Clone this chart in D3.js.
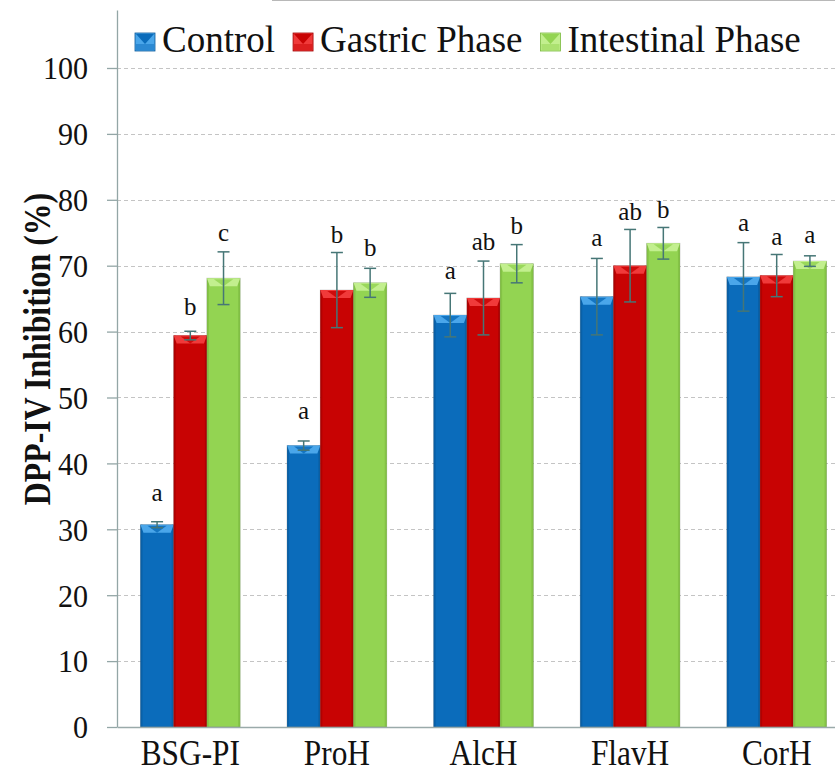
<!DOCTYPE html>
<html>
<head>
<meta charset="utf-8">
<script src="https://cdn.jsdelivr.net/npm/d3@7"></script>
<style>
  html, body { margin: 0; padding: 0; background: #fff; }
  svg { display: block; }
</style>
</head>
<body>
<svg id="chart" width="835" height="779"></svg>
<script>
// DPP-IV inhibition (%) per sample and digestion phase
const categories = ["BSG-PI", "ProH", "AlcH", "FlavH", "CorH"];
const seriesNames = ["Control", "Gastric Phase", "Intestinal Phase"];

const controlValues    = [30.7, 42.7, 62.5, 65.3, 68.3];
const gastricValues    = [59.4, 66.3, 65.1, 70.0, 68.5];
const intestinalValues = [68.1, 67.4, 70.3, 73.4, 70.7];

// standard deviations
const controlErr    = [0.45, 0.7, 3.3, 5.8, 5.2];
const gastricErr    = [0.65, 5.7, 5.6, 5.5, 3.2];
const intestinalErr = [4.0, 2.2, 2.9, 2.4, 0.8];

// significance letters and the level (in %) where each one sits
const controlLetters    = ["a", "a", "a", "a", "a"];
const gastricLetters    = ["b", "b", "ab", "ab", "a"];
const intestinalLetters = ["c", "b", "b", "b", "a"];
const controlLetterAt    = [34.3, 46.7, 68.0, 73.0, 75.3];
const gastricLetterAt    = [62.5, 73.4, 72.4, 77.0, 73.1];
const intestinalLetterAt = [73.8, 71.4, 74.8, 77.2, 73.4];

const yTicks = [0, 10, 20, 30, 40, 50, 60, 70, 80, 90, 100];
const yMax = 108.8;

const SERIF = "'Liberation Serif', 'Times New Roman', serif";

const palette = {
  "Control":          { base: "#0b6cbb", light: "#4aa6ea", dark: "#08589a" },
  "Gastric Phase":    { base: "#c80303", light: "#f03a3a", dark: "#a00000" },
  "Intestinal Phase": { base: "#93d452", light: "#c2ef8e", dark: "#79b83e" }
};

const seriesData = [
  { name: seriesNames[0], values: controlValues,    err: controlErr,    letters: controlLetters,    at: controlLetterAt },
  { name: seriesNames[1], values: gastricValues,    err: gastricErr,    letters: gastricLetters,    at: gastricLetterAt },
  { name: seriesNames[2], values: intestinalValues, err: intestinalErr, letters: intestinalLetters, at: intestinalLetterAt }
];

const rows = [];
seriesData.forEach(s => {
  categories.forEach((c, i) => {
    rows.push({ cat: c, series: s.name, value: s.values[i], err: s.err[i], letter: s.letters[i], at: s.at[i] });
  });
});

const svg = d3.select("#chart");
const W = 835;
const plotLeft = 117, plotBottom = 727, plotTop = 10, bandEnd = 850;

const y = d3.scaleLinear().domain([0, yMax]).range([plotBottom, plotTop]);
const x0 = d3.scaleBand().domain(categories).range([plotLeft, bandEnd]).paddingInner(0.32).paddingOuter(0.16);
const x1 = d3.scaleBand().domain(seriesNames).range([0, x0.bandwidth()]).padding(0);

// thin frame line along the top
svg.append("line").attr("x1", 272).attr("x2", W).attr("y1", 0.5).attr("y2", 0.5)
  .attr("stroke", "#b8b8b8").attr("stroke-width", 1);

// dashed gridlines
svg.append("g").selectAll("line").data(yTicks.filter(t => t > 0)).join("line")
  .attr("x1", plotLeft).attr("x2", W)
  .attr("y1", d => Math.round(y(d)) + 0.5).attr("y2", d => Math.round(y(d)) + 0.5)
  .attr("stroke", "#c4c4c4").attr("stroke-width", 1).attr("stroke-dasharray", "4,3");

// bars with a bevelled top
const barG = svg.append("g");
const bars = barG.selectAll("g.bar").data(rows).join("g").attr("class", "bar");
bars.each(function(d) {
  const g = d3.select(this);
  const c = palette[d.series];
  const bx = x0(d.cat) + x1(d.series);
  const bw = x1.bandwidth();
  const by = y(d.value);
  const bh = y(0) - by;
  g.append("rect").attr("x", bx).attr("y", by).attr("width", bw).attr("height", bh)
    .attr("fill", c.base).attr("stroke", "rgba(90,90,90,0.35)").attr("stroke-width", 0.8);
  // side shading
  g.append("rect").attr("x", bx).attr("y", by).attr("width", 2).attr("height", bh).attr("fill", c.dark).attr("opacity", 0.6);
  g.append("rect").attr("x", bx + bw - 2).attr("y", by).attr("width", 2).attr("height", bh).attr("fill", c.dark).attr("opacity", 0.6);
  // bevel on top: light band with a darker V in the middle
  const bv = 8;
  g.append("path")
    .attr("d", `M${bx},${by} L${bx + bw},${by} L${bx + bw - 3},${by + bv} L${bx + 3},${by + bv} Z`)
    .attr("fill", c.light);
  g.append("path")
    .attr("d", `M${bx + 7},${by + 1} L${bx + bw - 7},${by + 1} L${bx + bw / 2},${by + bv} Z`)
    .attr("fill", c.base).attr("opacity", 0.85);
});

// error bars
const errColor = "#467676";
const eb = svg.append("g").attr("stroke", errColor).attr("stroke-width", 1.5).attr("fill", "none");
rows.forEach(d => {
  const cx = x0(d.cat) + x1(d.series) + x1.bandwidth() / 2;
  const yt = y(d.value + d.err), yb = y(d.value - d.err);
  eb.append("line").attr("x1", cx).attr("x2", cx).attr("y1", yt).attr("y2", yb);
  eb.append("line").attr("x1", cx - 6).attr("x2", cx + 6).attr("y1", yt).attr("y2", yt);
  eb.append("line").attr("x1", cx - 6).attr("x2", cx + 6).attr("y1", yb).attr("y2", yb);
});

// significance letters
svg.append("g").selectAll("text").data(rows).join("text")
  .attr("x", d => x0(d.cat) + x1(d.series) + x1.bandwidth() / 2)
  .attr("y", d => y(d.at))
  .attr("text-anchor", "middle")
  .style("font-family", SERIF).style("font-size", "25px").attr("fill", "#111")
  .text(d => d.letter);

// y axis
const yAxis = svg.append("g").attr("transform", `translate(${plotLeft},0)`)
  .call(d3.axisLeft(y).tickValues(yTicks).tickSize(10).tickSizeOuter(0).tickPadding(0));
yAxis.select(".domain").attr("stroke", "#93a6a6").attr("stroke-width", 1.3);
yAxis.selectAll(".tick line").attr("stroke", "#93a6a6").attr("stroke-width", 1.3);
yAxis.selectAll(".tick text")
  .attr("x", 0).attr("dy", "0.34em")
  .attr("transform", "translate(-29,0) scale(0.94,1)")
  .style("font-family", SERIF).style("font-size", "32px").attr("fill", "#111");

// x axis
const xAxis = svg.append("g").attr("transform", `translate(0,${plotBottom})`)
  .call(d3.axisBottom(x0).tickSize(0).tickSizeOuter(0).tickPadding(0));
xAxis.select(".domain").attr("stroke", "#9aaaaa").attr("stroke-width", 1.3);
xAxis.selectAll(".tick text")
  .attr("y", 0).attr("dy", 0)
  .attr("transform", "translate(0,38) scale(0.87,1)")
  .style("font-family", SERIF).style("font-size", "36px").attr("fill", "#111");

// y-axis title
svg.append("text")
  .attr("transform", `translate(50,349) rotate(-90) scale(0.86,1)`)
  .attr("text-anchor", "middle")
  .style("font-family", SERIF).style("font-size", "37px").style("font-weight", "bold").attr("fill", "#111")
  .text("DPP-IV Inhibition (%)");

// legend
const legend = svg.append("g");
let lx = 135;
seriesNames.forEach(name => {
  const c = palette[name];
  const item = legend.append("g");
  item.append("rect").attr("x", lx).attr("y", 33).attr("width", 20).attr("height", 18)
    .attr("fill", c.light).attr("stroke", c.dark).attr("stroke-width", 0.8);
  item.append("path")
    .attr("d", `M${lx + 1},${34} L${lx + 19},${34} L${lx + 10},${44} Z`)
    .attr("fill", c.base);
  item.append("rect").attr("x", lx + 1).attr("y", 44).attr("width", 18).attr("height", 6).attr("fill", c.base).attr("opacity", 0.5);
  const t = item.append("text").attr("x", lx + 27).attr("y", 52)
    .style("font-family", SERIF).style("font-size", "37px").attr("fill", "#111")
    .text(name);
  lx = lx + 27 + t.node().getComputedTextLength() + 18;
});
</script>
</body>
</html>
